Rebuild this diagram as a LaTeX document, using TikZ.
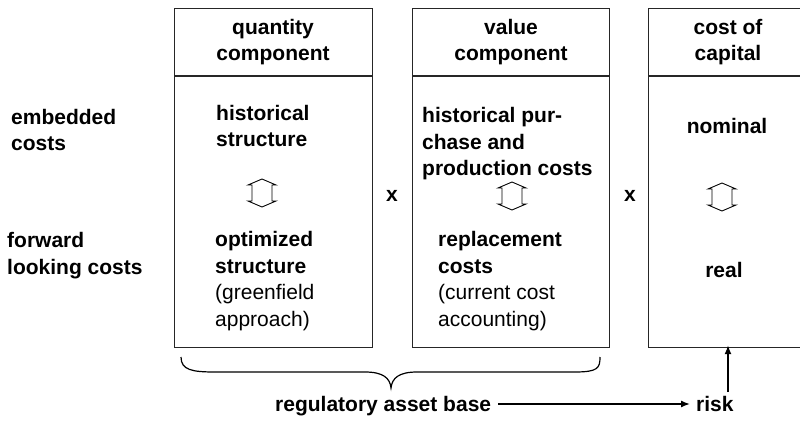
\documentclass[tikz,border=0pt]{standalone}
\usepackage{fontspec}
\setmainfont{Liberation Sans}
\usetikzlibrary{arrows.meta}
\tikzset{
  boxframe/.style={draw=black!85, line width=1.2pt, inner sep=0pt, anchor=north west},
  lbl/.style={font=\fontsize{21}{26.5}\selectfont\bfseries, inner sep=0pt, align=left, anchor=base west},
  hdr/.style={font=\fontsize{21}{26.5}\selectfont\bfseries, inner sep=0pt, align=center, anchor=base},
  dblarrow/.style={draw=black, line width=0.9pt, fill=white, line join=miter},
  conn/.style={line width=1.4pt, -{Latex[length=9pt,width=7pt]}},
}
\begin{document}
\begin{tikzpicture}[x=1pt,y=-1pt]
\useasboundingbox (0,0) rectangle (800,422);
\clip (0,0) rectangle (800,422);
% boxes
\node[boxframe, minimum width=198pt, minimum height=339pt] (box1) at (174,8) {};
\node[boxframe, minimum width=197pt, minimum height=339pt] (box2) at (412,8) {};
\node[boxframe, minimum width=165pt, minimum height=339pt] (box3) at (648,8) {};
\coordinate (d1l) at (174,76); \coordinate (d1r) at (372,76);
\coordinate (d2l) at (412,76); \coordinate (d2r) at (609,76);
\coordinate (d3l) at (648,76); \coordinate (d3r) at (813,76);
\draw[draw=black!85, line width=1.2pt] (d1l) -- (d1r);
\draw[draw=black!85, line width=1.2pt] (d2l) -- (d2r);
\draw[draw=black!85, line width=1.2pt] (d3l) -- (d3r);
% headers (base anchor = baseline of last line)
\node[hdr] (h1) at (273,61) {quantity\\component};
\node[hdr] (h2) at (511,61) {value\\component};
\node[hdr] (h3) at (728,61) {cost of\\capital};
% left labels
\node[lbl] (emb) at (11,151) {embedded\\costs};
\node[lbl] (fwd) at (7,274) {forward\\looking costs};
% box 1 content
\node[lbl] (hs) at (216,147) {historical\\structure};
\node[lbl] (os) at (215,326) {optimized\\structure\\\mdseries(greenfield\\\mdseries approach)};
% box 2 content
\node[lbl] (hp) at (422,176) {historical pur-\\chase and\\production costs};
\node[lbl] (rc) at (438,326) {replacement\\costs\\\mdseries(current cost\\\mdseries accounting)};
% box 3 content
\node[hdr] (nom) at (727,134) {nominal};
\node[hdr] (real) at (724,277) {real};
% multiplication signs
\node[hdr] (x1) at (392,201) {x};
\node[hdr] (x2) at (630,201) {x};
% double arrows
\foreach \cx/\cy in {262/193, 512/196, 722/197}{
  \draw[dblarrow] (\cx,\cy-14) -- (\cx+14,\cy-8) -- (\cx+10,\cy-8) -- (\cx+10,\cy+8) -- (\cx+14,\cy+8)
     -- (\cx,\cy+14) -- (\cx-14,\cy+8) -- (\cx-10,\cy+8) -- (\cx-10,\cy-8) -- (\cx-14,\cy-8) -- cycle;
}
% brace
\draw[line width=1.2pt] (181,357) .. controls (181,370) and (192,372) .. (215,372)
   -- (365,372) .. controls (383,372) and (390,378) .. (391,388)
   .. controls (392,378) and (399,372) .. (417,372)
   -- (575,372) .. controls (598,372) and (600,368) .. (600,357);
% bottom labels
\node[lbl] (rab) at (275,411) {regulatory asset base};
\node[lbl] (risk) at (696,411) {risk};
\draw[conn] ([xshift=7pt]rab.east |- 0,404) -- ([xshift=-6pt]risk.west |- 0,404);
\coordinate (riskup) at (728,392);
\draw[conn] (riskup) -- ([yshift=3pt]box3.south -| riskup);
\end{tikzpicture}
\end{document}
